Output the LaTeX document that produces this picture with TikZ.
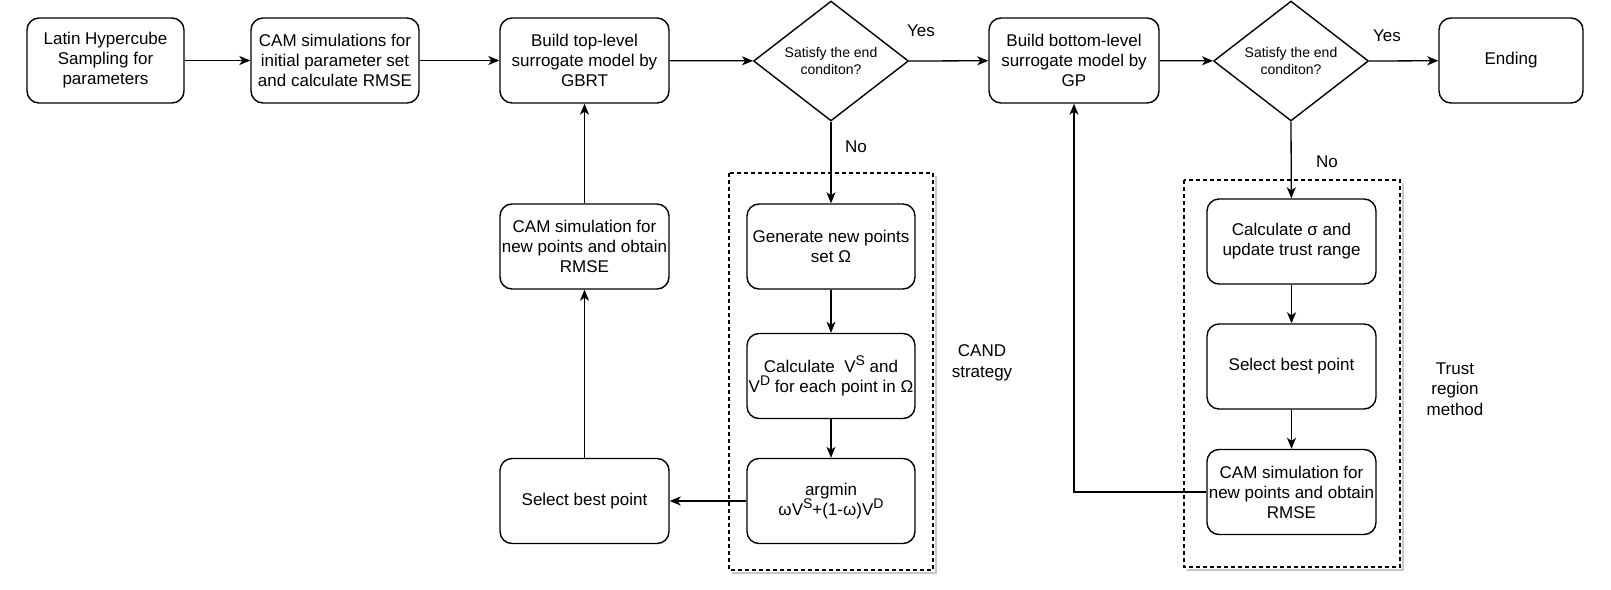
\documentclass[tikz,border=0pt]{standalone}
\usepackage{fontspec}
\setmainfont{Liberation Sans}
\usetikzlibrary{shapes.geometric,arrows.meta}
\newcommand{\supx}[1]{\raisebox{6.5pt}{\fontsize{14}{14}\selectfont #1}}
\begin{document}
\begin{tikzpicture}[x=1pt,y=-1pt,
  box/.style={draw, line width=1.4pt, rounded corners=12pt, align=center, inner sep=0pt,
    minimum height=85pt, font=\fontsize{17}{20}\selectfont},
  dia/.style={draw, diamond, line width=1.4pt, align=center, inner sep=0pt,
    minimum width=155pt, minimum height=113pt, font=\fontsize{14}{17}\selectfont},
  arr/.style={-{Stealth[length=11pt,width=9pt,inset=3pt]}, line width=1.3pt},
  lbl/.style={align=center, font=\fontsize{17}{20.5}\selectfont},
  grp/.style={draw, line width=1.1pt, dash pattern=on 4pt off 3pt},
  shd/.style={draw=black!22, line width=2.5pt}
]
\useasboundingbox (0,0) rectangle (1611,589);

% group frames
\draw[shd] (936,176) -- (936,573) -- (732,573);
\draw[grp] (729,173) rectangle (933,570);
\draw[shd] (1403,183) -- (1403,570) -- (1187,570);
\draw[grp] (1184,180) rectangle (1400,567);

% top row
\node[box, minimum width=157pt] (lhs) at (105.5,60.5) {Latin Hypercube\\Sampling for\\parameters};
\node[box, minimum width=168pt] (cam0) at (335,60.5) {CAM simulations for\\initial parameter set\\and calculate RMSE};
\node[box, minimum width=169pt] (top) at (584.5,60.5) {Build top-level\\surrogate model by\\GBRT};
\node[dia] (d1) at (831,61) {Satisfy the end\\conditon?};
\node[box, minimum width=170pt] (bot) at (1074,60.5) {Build bottom-level\\surrogate model by\\GP};
\node[dia] (d2) at (1291,61) {Satisfy the end\\conditon?};
\node[box, minimum width=144pt] (end) at (1511,60.5) {Ending};

% left loop
\node[box, minimum width=169pt] (lcam) at (584.5,246.5) {CAM simulation for\\new points and obtain\\RMSE};
\node[box, minimum width=169pt] (lsel) at (584.5,501) {Select best point};

% CAND group
\node[box, minimum width=168pt] (gen) at (831,246.5) {Generate new points\\set Ω};
\node[box, minimum width=168pt] (calc) at (831,376) {Calculate\ \ V\supx{S} and\\V\supx{D} for each point in Ω};
\node[box, minimum width=168pt] (amin) at (831,501) {argmin\\ωV\supx{S}+(1-ω)V\supx{D}};
\node[lbl] (cand) at (982,363) {CAND\\strategy};

% Trust region group
\node[box, minimum width=169pt] (sig) at (1291.5,241.5) {Calculate σ and\\update trust range};
\node[box, minimum width=169pt] (rsel) at (1291.5,366.5) {Select best point};
\node[box, minimum width=169pt] (rcam) at (1291.5,492) {CAM simulation for\\new points and obtain\\RMSE};
\node[lbl] (trm) at (1455,389) {Trust\\region\\method};

% labels
\node[lbl] (y1) at (921,31) {Yes};
\node[lbl] (y2) at (1387,36) {Yes};
\node[lbl] (n1) at (856,147) {No};
\node[lbl] (n2) at (1327,162) {No};

% connectors
\draw[arr] (lhs) -- (cam0);
\draw[arr] (cam0) -- (top);
\draw[arr] (top) -- (d1);
\draw[arr] (d1.east) -- (bot);
\draw[arr] (d1.south) -- (gen);
\draw[arr] (gen) -- (calc);
\draw[arr] (calc) -- (amin);
\draw[arr] (amin) -- (lsel);
\draw[arr] (lsel) -- (lcam);
\draw[arr] (lcam) -- (top);
\draw[arr] (bot) -- (d2);
\draw[arr] (d2.east) -- (end);
\draw[arr] (d2.south) -- (sig);
\draw[arr] (sig) -- (rsel);
\draw[arr] (rsel) -- (rcam);
\draw[arr] (rcam.west) -| (bot.south);
\end{tikzpicture}
\end{document}
